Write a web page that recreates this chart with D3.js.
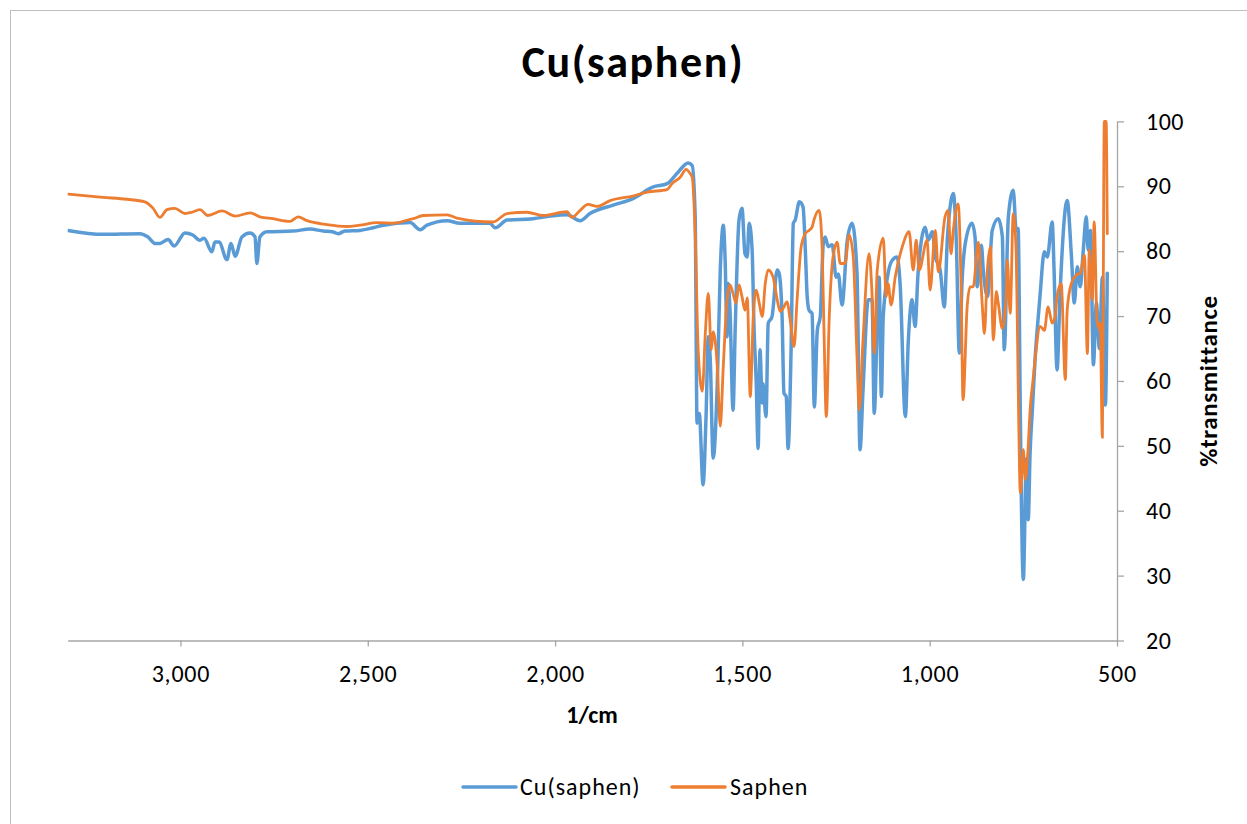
<!DOCTYPE html>
<html>
<head>
<meta charset="utf-8">
<script src="https://cdn.jsdelivr.net/npm/d3@7"></script>
<style>
  html, body { margin: 0; padding: 0; background: #fff; }
  svg { display: block; font-family: Carlito, Calibri, Lato, sans-serif; }
</style>
</head>
<body>
<svg id="chart" width="1247" height="824"></svg>
<script>
// ---- Data (wavenumber in 1/cm, % transmittance) ----
const chartTitle = "Cu(saphen)";
const xAxisTitle = "1/cm";
const yAxisTitle = "%transmittance";
const seriesNames = ["Cu(saphen)", "Saphen"];
const xTicks = [3000, 2500, 2000, 1500, 1000, 500];
const yTicks = [20, 30, 40, 50, 60, 70, 80, 90, 100];

const cuWavenumber = [3300,3207,3108,3087,3068,3055,3033,3017,2988,2967,2948,2937,2916,2908,2897,2876,2865,2854,2836,2814,2801,2796,2788,2769,2700,2654,2619,2595,2579,2561,2521,2486,2459,2387,2360,2342,2288,2254,2174,2160,2128,2059,2013,1968,1933,1907,1845,1792,1738,1701,1674,1645,1634,1626,1621,1615,1605,1597,1591,1586,1578,1567,1559,1551,1546,1541,1538,1533,1525,1519,1509,1501,1493,1487,1482,1474,1469,1463,1458,1453,1447,1445,1437,1431,1421,1407,1402,1394,1389,1383,1378,1370,1364,1359,1348,1338,1332,1327,1322,1314,1308,1300,1292,1284,1279,1271,1260,1250,1244,1234,1220,1207,1194,1186,1178,1164,1154,1148,1140,1135,1129,1124,1111,1100,1087,1079,1065,1057,1047,1039,1031,1012,1004,993,985,972,961,953,943,937,929,921,913,905,887,879,873,862,857,846,833,817,806,801,790,777,769,764,758,756,750,742,737,732,726,718,710,705,694,686,673,668,660,652,633,622,614,606,598,590,582,577,571,563,555,547,539,531,526];
const cuTransmittance = [83.2,82.6,82.7,82.2,81.2,81.2,81.8,80.8,82.8,82.5,81.7,82.0,79.9,81.4,81.4,78.7,81.2,79.2,82.2,82.8,82.2,78.1,82.2,83.0,83.1,83.4,83.1,83.0,82.7,83.1,83.2,83.6,84.0,84.4,83.3,84.0,84.7,84.3,84.3,83.6,84.8,85.0,85.4,85.6,84.7,85.8,87.1,88.1,89.9,90.4,92.0,93.6,93.2,85.3,53.5,55.0,44.0,54.5,66.8,63.7,48.1,59.6,77.1,84.0,78.6,66.8,75.0,70.9,55.5,68.4,84.8,86.6,79.6,79.1,84.3,80.2,68.4,59.6,49.6,64.8,56.6,59.6,54.5,68.9,69.9,77.1,76.6,69.9,58.1,57.6,49.6,64.8,84.3,84.8,87.6,86.8,80.2,73.0,70.9,70.4,56.0,67.8,70.0,81.2,82.2,80.7,81.0,76.0,76.5,71.7,81.7,84.3,76.6,49.4,58.6,72.5,72.5,55.0,68.9,76.0,57.6,69.9,76.6,78.6,79.1,75.0,54.5,66.3,72.5,68.4,76.6,83.7,81.7,83.0,79.1,77.1,71.4,81.7,87.8,88.9,81.7,64.3,76.0,81.2,84.3,82.2,74.5,80.9,77.1,73.0,83.2,85.0,82.2,64.8,85.3,89.4,83.2,83.5,54.5,44.8,29.4,48.0,38.6,48.9,55.5,64.0,70.0,73.5,79.9,79.1,84.5,77.1,61.7,73.5,87.8,79.6,72.0,77.6,74.5,80.2,85.3,80.2,83.2,62.5,72.0,65.0,76.0,56.3,76.6];

const saphenWavenumber = [3300,3207,3143,3095,3073,3055,3036,3015,2988,2969,2948,2927,2889,2854,2814,2788,2753,2708,2686,2662,2609,2555,2521,2475,2433,2387,2379,2352,2288,2262,2166,2128,2075,2032,1968,1955,1933,1912,1888,1853,1792,1754,1701,1688,1666,1650,1640,1634,1626,1618,1607,1599,1591,1583,1578,1567,1559,1551,1541,1533,1525,1517,1509,1501,1493,1487,1479,1471,1463,1455,1447,1439,1431,1418,1407,1399,1391,1381,1372,1362,1354,1343,1332,1322,1314,1308,1295,1287,1282,1276,1268,1258,1247,1239,1226,1215,1204,1194,1188,1178,1162,1154,1148,1140,1124,1116,1111,1103,1092,1073,1055,1044,1036,1028,1007,999,985,977,959,951,943,937,924,916,911,900,892,884,870,860,854,846,838,830,822,817,806,796,793,785,777,769,764,758,750,745,737,732,724,718,705,694,684,673,665,660,649,638,633,622,609,598,587,579,574,566,561,553,547,545,539,537,534,529,526];
const saphenTransmittance = [88.8,88.3,88.0,87.6,86.6,85.2,86.4,86.6,85.8,86.0,86.4,85.5,86.2,85.4,85.9,85.3,85.0,84.6,85.3,84.7,84.1,83.8,84.0,84.4,84.3,84.9,85.0,85.5,85.6,85.1,84.5,85.8,86.0,85.5,86.1,85.2,86.3,87.2,86.9,87.8,88.5,89.1,89.5,90.4,91.4,92.6,92.0,91.4,82.7,64.8,58.4,67.3,73.5,64.8,67.6,62.2,53.0,62.2,72.5,74.8,73.5,72.0,74.8,73.0,70.9,72.8,57.6,69.9,74.0,72.0,69.9,75.0,77.1,76.0,72.5,70.7,71.2,72.2,69.2,65.3,72.5,80.7,82.7,83.2,83.7,85.0,86.3,80.2,67.3,54.5,70.0,79.1,81.4,78.1,78.1,82.5,79.1,63.7,55.5,66.3,79.6,73.5,64.3,77.1,82.0,73.0,75.0,71.7,76.0,80.7,83.0,77.1,81.7,77.1,81.7,74.0,83.2,76.8,85.3,86.3,79.6,83.2,87.3,74.0,57.1,71.4,74.5,74.5,81.4,72.0,67.3,77.1,80.7,66.3,73.8,72.0,68.1,73.0,78.6,70.4,85.8,79.6,60.2,42.7,49.4,44.8,49.9,55.5,60.2,63.7,68.4,67.8,71.4,68.9,70.0,73.0,75.0,60.2,70.9,75.0,76.3,76.6,79.4,64.2,80.2,72.5,84.5,69.0,68.0,69.0,51.3,70.0,100,100,82.7];

const seriesColors = ["#5B9BD5", "#ED7D31"];

// ---- Layout ----
const W = 1247, H = 824;
const plot = { left: 67.7, right: 1117, top: 121.4, bottom: 640.5 };
const axisColor = "#A6A6A6";
const font = "Carlito, Calibri, Lato, sans-serif";

const svg = d3.select("#chart");
svg.append("rect").attr("width", W).attr("height", H).attr("fill", "#fff");
svg.append("rect").attr("x", 10.5).attr("y", 10.5).attr("width", W + 20).attr("height", H + 20)
  .attr("fill", "none").attr("stroke", "#BFBFBF").attr("stroke-width", 1);

const x = d3.scaleLinear().domain([3301, 500]).range([plot.left, plot.right]);
const y = d3.scaleLinear().domain([20, 100]).range([plot.bottom, plot.top]);

// Title
svg.append("text").attr("x", 633).attr("y", 77).attr("text-anchor", "middle")
  .attr("font-family", font).attr("font-weight", "bold").attr("font-size", 44)
  .attr("letter-spacing", 1.6).attr("fill", "#000").text(chartTitle);

// X axis
const xAxis = d3.axisBottom(x).tickValues(xTicks).tickFormat(d3.format(",")).tickSize(6).tickPadding(10).tickSizeOuter(0);
const gx = svg.append("g").attr("transform", `translate(0,${plot.bottom})`).call(xAxis);
gx.select(".domain").attr("stroke", axisColor).attr("stroke-width", 1.3);
gx.selectAll(".tick line").attr("stroke", axisColor).attr("stroke-width", 1.3);
gx.selectAll(".tick text").attr("font-family", font).attr("font-size", 24).attr("letter-spacing", 0.8)
  .attr("fill", "#000").attr("dy", "1.05em");

// Y axis (right side)
const yAxis = d3.axisRight(y).tickValues(yTicks).tickSize(7).tickPadding(22).tickSizeOuter(0);
const gy = svg.append("g").attr("transform", `translate(${plot.right},0)`).call(yAxis);
gy.select(".domain").attr("stroke", axisColor).attr("stroke-width", 1.3);
gy.selectAll(".tick line").attr("stroke", axisColor).attr("stroke-width", 1.3);
gy.selectAll(".tick text").attr("font-family", font).attr("font-size", 24).attr("letter-spacing", 0.5).attr("fill", "#000");

// Axis titles
svg.append("text").attr("x", 592).attr("y", 723).attr("text-anchor", "middle")
  .attr("font-family", font).attr("font-weight", "bold").attr("font-size", 24).attr("fill", "#000").text(xAxisTitle);
svg.append("text").attr("transform", `translate(1217,381) rotate(-90)`).attr("text-anchor", "middle")
  .attr("font-family", font).attr("font-weight", "bold").attr("font-size", 25).attr("letter-spacing", 0.6)
  .attr("fill", "#000").text(yAxisTitle);

// Clip
svg.append("clipPath").attr("id", "clip").append("rect")
  .attr("x", plot.left).attr("y", plot.top - 2).attr("width", plot.right - plot.left + 2).attr("height", plot.bottom - plot.top + 2);

const line = d3.line().x(d => x(d[0])).y(d => y(d[1])).curve(d3.curveMonotoneX);
const cuData = cuWavenumber.map((w, i) => [w, cuTransmittance[i]]);
const saphenData = saphenWavenumber.map((w, i) => [w, saphenTransmittance[i]]);

const gLines = svg.append("g").attr("clip-path", "url(#clip)");
gLines.append("path").datum(cuData).attr("d", line).attr("fill", "none")
  .attr("stroke", seriesColors[0]).attr("stroke-width", 3.5).attr("stroke-linejoin", "round").attr("stroke-linecap", "round");
gLines.append("path").datum(saphenData).attr("d", line).attr("fill", "none")
  .attr("stroke", seriesColors[1]).attr("stroke-width", 2.8).attr("stroke-linejoin", "round").attr("stroke-linecap", "round");

// Legend
const legendItems = [
  { name: seriesNames[0], color: seriesColors[0], x1: 463, x2: 516, tx: 520 },
  { name: seriesNames[1], color: seriesColors[1], x1: 672, x2: 725, tx: 730 }
];
const lg = svg.append("g");
legendItems.forEach(it => {
  lg.append("line").attr("x1", it.x1).attr("x2", it.x2).attr("y1", 787).attr("y2", 787)
    .attr("stroke", it.color).attr("stroke-width", 3.5).attr("stroke-linecap", "round");
  lg.append("text").attr("x", it.tx).attr("y", 795).attr("font-family", font).attr("font-size", 24)
    .attr("letter-spacing", 1).attr("fill", "#000").text(it.name);
});
</script>
</body>
</html>
